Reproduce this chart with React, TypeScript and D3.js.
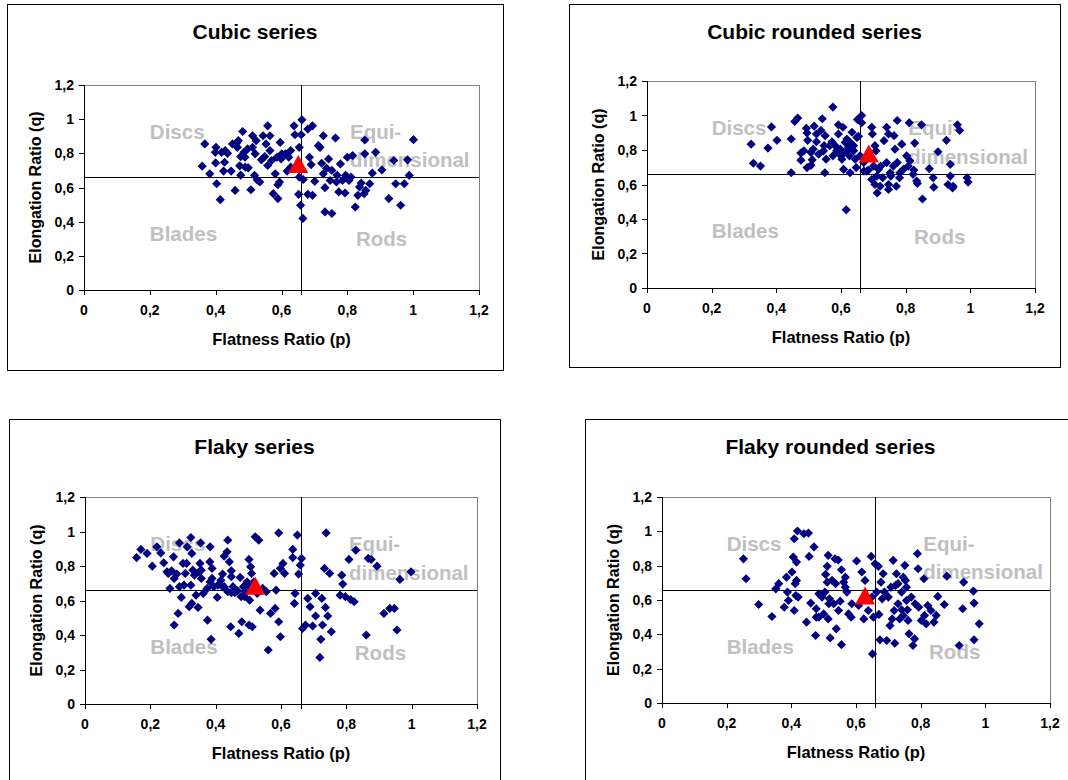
import * as d3 from "d3";

// axis ticks shared by all four charts
const xTicks = [0, 0.2, 0.4, 0.6, 0.8, 1, 1.2];
const yTicks = [0, 0.2, 0.4, 0.6, 0.8, 1, 1.2];
const pLimit = 0.66;
const qLimit = 0.66;

const zoneLabels = [
  { text: "Discs", p: 0.2, q: 0.885 },
  { text: "Equi-", p: 0.808, q: 0.885 },
  { text: "dimensional", p: 0.808, q: 0.72 },
  { text: "Blades", p: 0.2, q: 0.287 },
  { text: "Rods", p: 0.826, q: 0.257 },
];

const titles = ["Cubic series", "Cubic rounded series", "Flaky series", "Flaky rounded series"];

// [p, q] per particle
const cubic: [number, number][] = [
  [.359,.725],[.367,.855],[.382,.680],[.401,.835],[.399,.806],[.400,.744],[.403,.622],[.414,.529],[.418,.806],[.429,.816],
  [.427,.748],[.424,.696],[.436,.800],[.447,.696],[.451,.855],[.459,.583],[.463,.859],[.469,.874],[.473,.727],[.476,.781],
  [.476,.672],[.482,.928],[.486,.806],[.489,.777],[.490,.719],[.499,.715],[.507,.587],[.512,.903],[.512,.835],[.520,.797],
  [.518,.671],[.523,.874],[.526,.645],[.534,.632],[.544,.903],[.549,.781],[.553,.855],[.558,.961],[.558,.729],[.565,.903],
  [.565,.816],[.570,.758],[.575,.564],[.581,.680],[.586,.777],[.589,.616],[.589,.535],[.596,.864],[.599,.767],[.594,.632],
  [.612,.797],[.622,.777],[.617,.696],[.628,.816],[.638,.961],[.641,.909],[.654,.835],[.662,.996],[.660,.909],[.654,.661],
  [.652,.560],[.658,.496],[.665,.419],[.666,.647],[.680,.942],[.694,.961],[.685,.777],[.690,.734],[.680,.560],[.694,.554],
  [.701,.636],[.712,.845],[.717,.835],[.727,.903],[.722,.742],[.727,.680],[.732,.599],[.732,.457],[.743,.767],[.753,.448],
  [.753,.700],[.764,.890],[.769,.671],[.779,.738],[.774,.574],[.785,.641],[.793,.568],[.800,.777],[.811,.661],[.816,.787],
  [.824,.486],[.832,.554],[.842,.626],[.853,.878],[.856,.583],[.868,.622],[.876,.684],[.886,.806],[.905,.703],[.926,.535],
  [.947,.622],[.962,.496],[.973,.622],[.983,.762],[.988,.671],[1.001,.880],[.601,.797],[.628,.719],[.539,.762],[.497,.826],
  [.466,.835],[.737,.713],[.748,.641],[.767,.632],[.795,.671],[.805,.641],[.837,.603],[.851,.564],[.941,.758],[.853,.797],
];

const cubicRounded: [number, number][] = [
  [.322,.834],[.329,.723],[.351,.707],[.374,.811],[.385,.934],[.402,.856],[.446,.864],[.446,.668],[.457,.965],[.466,.985],
  [.476,.782],[.476,.741],[.493,.926],[.495,.899],[.497,.856],[.495,.698],[.507,.786],[.507,.711],[.511,.743],[.517,.938],
  [.524,.893],[.524,.848],[.531,.776],[.538,.913],[.542,.981],[.548,.825],[.550,.668],[.554,.747],[.546,.795],[.575,1.049],
  [.572,.848],[.575,.766],[.582,.825],[.592,.946],[.592,.893],[.598,.805],[.600,.766],[.606,.932],[.603,.747],[.608,.688],
  [.613,.844],[.616,.453],[.620,.795],[.626,.766],[.628,.668],[.634,.903],[.639,.825],[.644,.747],[.647,.698],[.654,.879],
  [.651,.977],[.664,1.0],[.664,.958],[.671,.678],[.685,.684],[.695,.932],[.697,.893],[.695,.629],[.708,.795],[.705,.600],
  [.712,.551],[.716,.688],[.723,.707],[.729,.639],[.733,.854],[.741,.932],[.741,.727],[.747,.600],[.752,.668],[.754,.649],
  [.747,.893],[.764,.883],[.767,.805],[.774,.971],[.774,.727],[.781,.639],[.788,.834],[.793,.688],[.803,.766],[.808,.707],
  [.811,.958],[.825,.684],[.828,.840],[.834,.620],[.836,.606],[.849,.946],[.852,.516],[.873,.692],[.885,.639],[.887,.584],
  [.900,.790],[.926,.856],[.931,.600],[.938,.649],[.938,.717],[.945,.580],[.960,.946],[.967,.913],[.990,.639],[.993,.614],
  [.947,.590],[.618,.864],[.628,.844],[.639,.795],[.623,.815],[.608,.786],[.587,.795],[.659,.766],[.670,.727],[.680,.678],
  [.701,.707],[.711,.649],[.721,.590],[.705,.825],[.762,.707],[.782,.668],[.813,.737],[.823,.659],[.649,.873],[.551,.883],
  [.565,.825],[.485,.795],[.514,.805],[.771,.590],[.747,.571],
];

const flaky: [number, number][] = [
  [.158,.849],[.171,.896],[.190,.873],[.206,.799],[.220,.911],[.232,.876],[.241,.819],[.251,.766],[.260,.670],[.271,.853],
  [.265,.772],[.273,.728],[.273,.458],[.281,.753],[.285,.525],[.289,.934],[.289,.680],[.295,.618],[.300,.815],[.303,.689],
  [.311,.815],[.313,.911],[.319,.564],[.324,.965],[.324,.689],[.327,.873],[.330,.776],[.335,.747],[.327,.583],[.340,.631],
  [.346,.560],[.349,.766],[.352,.815],[.354,.934],[.356,.728],[.362,.641],[.374,.670],[.375,.486],[.382,.824],[.383,.911],
  [.386,.375],[.389,.786],[.389,.728],[.394,.680],[.405,.618],[.407,.689],[.421,.680],[.421,.753],[.426,.857],[.435,.882],
  [.437,.950],[.442,.824],[.446,.448],[.448,.772],[.448,.738],[.448,.645],[.459,.645],[.467,.656],[.471,.409],[.475,.734],
  [.478,.622],[.480,.477],[.485,.680],[.496,.708],[.502,.838],[.504,.602],[.502,.458],[.507,.795],[.512,.448],[.521,.969],
  [.532,.950],[.536,.544],[.539,.660],[.544,.670],[.561,.313],[.568,.525],[.579,.757],[.582,.554],[.585,.660],[.593,.992],
  [.593,.477],[.598,.390],[.598,.786],[.606,.815],[.611,.757],[.636,.896],[.636,.849],[.641,.583],[.643,.641],[.650,.979],
  [.654,.753],[.659,.805],[.663,.844],[.666,.438],[.675,.458],[.682,.612],[.689,.564],[.697,.452],[.706,.641],[.706,.510],
  [.719,.270],[.722,.375],[.725,.612],[.727,.458],[.733,.786],[.736,.560],[.738,.992],[.743,.510],[.749,.757],[.754,.419],
  [.781,.631],[.786,.747],[.789,.695],[.797,.622],[.808,.838],[.813,.606],[.824,.593],[.829,.892],[.861,.400],[.867,.844],
  [.876,.838],[.894,.799],[.915,.525],[.933,.554],[.947,.554],[.955,.429],[.964,.722],[.998,.766],[.416,.718],[.437,.651],
  [.453,.680],[.491,.651],[.504,.680],[.517,.708],[.527,.641],[.510,.757],[.489,.622],[.356,.776],[.307,.757],[.255,.757],
  [.426,.680],[.383,.708],[.555,.651],
];

const flakyRounded: [number, number][] = [
  [.252,.840],[.260,.724],[.299,.574],[.340,.504],[.352,.665],[.361,.695],[.378,.558],[.385,.733],[.388,.646],[.391,.597],
  [.402,.763],[.406,.850],[.409,.957],[.412,.695],[.414,.626],[.416,.714],[.419,1.002],[.416,.821],[.421,.617],[.409,.539],
  [.439,.986],[.447,.471],[.453,.990],[.455,.854],[.460,.582],[.470,.909],[.475,.393],[.477,.549],[.477,.500],[.485,.636],
  [.495,.617],[.504,.646],[.506,.749],[.511,.796],[.511,.704],[.514,.860],[.514,.490],[.518,.607],[.520,.379],[.526,.714],
  [.531,.578],[.535,.840],[.537,.695],[.539,.432],[.545,.833],[.546,.539],[.551,.593],[.555,.340],[.555,.776],[.562,.704],
  [.567,.675],[.572,.646],[.577,.519],[.585,.500],[.587,.578],[.602,.827],[.608,.568],[.618,.763],[.624,.490],[.638,.539],
  [.647,.854],[.651,.286],[.654,.500],[.659,.811],[.664,.646],[.669,.796],[.671,.516],[.674,.368],[.677,.704],[.681,.607],
  [.684,.753],[.688,.646],[.695,.364],[.705,.451],[.708,.675],[.712,.490],[.715,.831],[.720,.348],[.722,.685],[.725,.753],
  [.730,.578],[.735,.490],[.741,.646],[.746,.510],[.751,.802],[.753,.714],[.756,.597],[.759,.543],[.761,.481],[.764,.403],
  [.776,.335],[.781,.374],[.783,.578],[.790,.870],[.792,.782],[.794,.558],[.802,.481],[.810,.724],[.812,.510],[.817,.461],
  [.832,.539],[.841,.471],[.848,.510],[.853,.621],[.873,.574],[.881,.739],[.919,.335],[.930,.549],[.933,.704],[.963,.652],
  [.965,.582],[.965,.368],[.981,.461],[.730,.695],[.746,.733],[.756,.675],[.771,.617],[.741,.543],[.700,.617],[.649,.617],
  [.628,.714],[.567,.733],[.516,.578],[.500,.519],[.485,.500],[.822,.568],[.718,.539],
];

// series mean (red triangle)
const means: [number, number][] = [
  [0.651, 0.738],
  [0.686, 0.78],
  [0.521, 0.685],
  [0.628, 0.626],
];

const series = [cubic, cubicRounded, flaky, flakyRounded];

// frame and plot area of each chart in page pixels
const layouts = [
  { frame: { x: 7, y: 4, w: 496, h: 366 }, plot: { x: 84, y: 85, w: 395, h: 205 } },
  { frame: { x: 569, y: 4, w: 491, h: 363 }, plot: { x: 647, y: 81, w: 388, h: 207 } },
  { frame: { x: 9, y: 419, w: 491, h: 366 }, plot: { x: 85, y: 497, w: 392, h: 207 } },
  { frame: { x: 585, y: 419, w: 491, h: 366 }, plot: { x: 662, y: 497, w: 388, h: 206 } },
];

const FONT = "'Liberation Sans', Arial, Helvetica, sans-serif";
const fmt = d3
  .formatLocale({ decimal: ",", thousands: ".", grouping: [3], currency: ["", ""] })
  .format("~g");

const diamond = d3.symbol().type(d3.symbolSquare).size(42)();
const triangle = "M0,-9L10,9L-10,9Z";

function Chart({ title, points, mean, layout }) {
  const { frame, plot } = layout;
  const x = d3.scaleLinear().domain([0, 1.2]).range([plot.x, plot.x + plot.w]);
  const y = d3.scaleLinear().domain([0, 1.2]).range([plot.y + plot.h, plot.y]);
  const bottom = plot.y + plot.h;

  return (
    <g fontFamily={FONT}>
      <rect x={frame.x + 0.5} y={frame.y + 0.5} width={frame.w} height={frame.h} fill="#fff" stroke="#000" strokeWidth={1} />
      <text x={frame.x + frame.w / 2} y={frame.y + 35} textAnchor="middle" fontSize={21} fontWeight="bold">
        {title}
      </text>

      <rect x={plot.x + 0.5} y={plot.y + 0.5} width={plot.w} height={plot.h} fill="#fff" stroke="#808080" strokeWidth={1} />

      {zoneLabels.map((z) => (
        <text key={z.text} x={x(z.p)} y={y(z.q)} fontSize={20.5} fontWeight="bold" fill="#c0c0c0">
          {z.text}
        </text>
      ))}

      {/* class limits */}
      <line x1={Math.round(x(pLimit)) + 0.5} x2={Math.round(x(pLimit)) + 0.5} y1={plot.y} y2={bottom + 5} stroke="#000" />
      <line x1={plot.x} x2={plot.x + plot.w} y1={Math.round(y(qLimit)) + 0.5} y2={Math.round(y(qLimit)) + 0.5} stroke="#000" />

      {/* axes */}
      <line x1={plot.x + 0.5} x2={plot.x + 0.5} y1={plot.y} y2={bottom} stroke="#000" />
      <line x1={plot.x} x2={plot.x + plot.w + 1} y1={bottom + 0.5} y2={bottom + 0.5} stroke="#000" />
      {xTicks.map((t) => (
        <g key={"x" + t}>
          <line x1={Math.round(x(t)) + 0.5} x2={Math.round(x(t)) + 0.5} y1={bottom} y2={bottom + 5} stroke="#000" />
          <text x={x(t)} y={bottom + 25} textAnchor="middle" fontSize={14} fontWeight="bold">
            {fmt(t)}
          </text>
        </g>
      ))}
      {yTicks.map((t) => (
        <g key={"y" + t}>
          <line x1={plot.x - 5} x2={plot.x} y1={Math.round(y(t)) + 0.5} y2={Math.round(y(t)) + 0.5} stroke="#000" />
          <text x={plot.x - 10} y={y(t) + 5} textAnchor="end" fontSize={14} fontWeight="bold">
            {fmt(t)}
          </text>
        </g>
      ))}

      {points.map((d, i) => (
        <path key={i} d={diamond} transform={`translate(${x(d[0])},${y(d[1])}) rotate(45)`} fill="#000080" />
      ))}
      <path d={triangle} transform={`translate(${x(mean[0])},${y(mean[1])})`} fill="#ff0000" />

      <text x={plot.x + plot.w / 2} y={bottom + 55} textAnchor="middle" fontSize={16.5} fontWeight="bold">
        Flatness Ratio (p)
      </text>
      <text
        transform={`translate(${plot.x - 43},${plot.y + plot.h / 2}) rotate(-90)`}
        textAnchor="middle"
        fontSize={16}
        fontWeight="bold"
      >
        Elongation Ratio (q)
      </text>
    </g>
  );
}

export default function App() {
  return (
    <svg width={1068} height={780} style={{ position: "absolute", left: 0, top: 0, background: "#fff" }}>
      {series.map((pts, i) => (
        <Chart key={titles[i]} title={titles[i]} points={pts} mean={means[i]} layout={layouts[i]} />
      ))}
    </svg>
  );
}
